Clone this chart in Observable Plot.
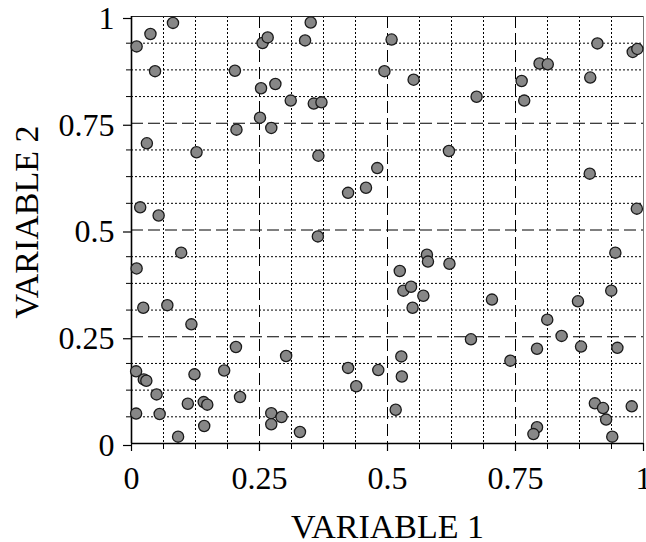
<!DOCTYPE html>
<html>
<head>
<meta charset="utf-8">
<script src="https://cdn.jsdelivr.net/npm/d3@7"></script>
<script src="https://cdn.jsdelivr.net/npm/@observablehq/plot@0.6"></script>
<style>
  html, body { margin: 0; padding: 0; background: #fff; }
  #chart svg, #chart svg text { font-family: "Liberation Serif", "Times New Roman", Times, serif !important; }
</style>
</head>
<body>
<div id="chart"></div>
<script>
const xValues = [0.010,0.037,0.081,0.256,0.266,0.350,0.339,0.508,0.046,0.202,0.494,0.253,0.281,0.311,0.356,0.371,0.251,0.273,0.205,0.030,0.127,0.365,0.480,0.458,0.423,0.017,0.053,0.364,
  0.551,0.674,0.762,0.767,0.797,0.813,0.910,0.896,0.979,0.988,0.620,0.895,0.987,
  0.097,0.010,0.023,0.070,0.117,0.009,0.024,0.029,0.049,0.009,0.055,0.091,0.123,0.110,0.141,0.148,0.142,0.181,0.204,0.212,0.302,0.273,0.293,0.273,0.329,
  0.577,0.579,0.621,0.524,0.531,0.546,0.570,0.549,0.704,0.872,0.945,0.937,0.812,0.840,0.663,0.792,0.878,0.949,0.740,0.527,0.528,0.516,
  0.423,0.439,0.482,0.905,0.921,0.927,0.977,0.939,0.792,0.785];
const yValues = [0.930,0.959,0.985,0.938,0.951,0.986,0.944,0.946,0.872,0.873,0.872,0.832,0.842,0.803,0.796,0.799,0.763,0.739,0.735,0.703,0.682,0.674,0.645,0.599,0.587,0.553,0.534,0.485,
  0.852,0.812,0.849,0.803,0.890,0.888,0.937,0.857,0.917,0.924,0.685,0.632,0.550,
  0.447,0.410,0.318,0.324,0.279,0.169,0.150,0.147,0.115,0.070,0.069,0.016,0.162,0.093,0.097,0.091,0.041,0.171,0.226,0.109,0.205,0.071,0.062,0.045,0.027,
  0.442,0.426,0.421,0.404,0.358,0.367,0.346,0.318,0.337,0.333,0.447,0.358,0.290,0.252,0.244,0.222,0.227,0.224,0.194,0.204,0.157,0.079,
  0.177,0.134,0.172,0.094,0.083,0.056,0.087,0.016,0.038,0.022];
const majorTicks = [0, 0.25, 0.5, 0.75, 1];
const minorTicks = [0.0625, 0.125, 0.1875, 0.3125, 0.375, 0.4375, 0.5625, 0.625, 0.6875, 0.8125, 0.875, 0.9375];
const majorGrid = [0.25, 0.5, 0.75];
const xLabel = "VARIABLE 1";
const yLabel = "VARIABLE 2";

const points = xValues.map((x, i) => ({x, y: yValues[i]}));

const chart = Plot.plot({
  width: 646,
  height: 542,
  marginLeft: 131,
  marginRight: 3,
  marginTop: 16,
  marginBottom: 99,
  style: {fontSize: "32px", background: "#fff", color: "#000"},
  x: {domain: [0, 1], label: null},
  y: {domain: [0, 1], label: null},
  marks: [
    Plot.gridX(minorTicks, {stroke: "#000", strokeOpacity: 1, strokeWidth: 1, strokeDasharray: "2,2"}),
    Plot.gridY(minorTicks, {stroke: "#000", strokeOpacity: 1, strokeWidth: 1, strokeDasharray: "2,2"}),
    Plot.gridX(majorGrid, {stroke: "#000", strokeOpacity: 1, strokeWidth: 1, strokeDasharray: "12,5"}),
    Plot.gridY(majorGrid, {stroke: "#000", strokeOpacity: 1, strokeWidth: 1, strokeDasharray: "12,5"}),
    Plot.ruleY([1], {stroke: "#222", strokeWidth: 1}),
    Plot.ruleX([1], {stroke: "#777", strokeWidth: 1}),
    Plot.ruleX([0], {stroke: "#000", strokeWidth: 1.6}),
    Plot.ruleY([0], {stroke: "#000", strokeWidth: 1.6}),
    Plot.axisX({ticks: majorTicks, tickSize: 8, tickPadding: 15, tickFormat: d => String(d), label: null, strokeWidth: 1.2}),
    Plot.axisX({ticks: minorTicks, tickSize: 6, tickFormat: () => "", label: null, strokeWidth: 1}),
    Plot.axisY({ticks: majorTicks, tickSize: 8, tickPadding: 9, tickFormat: d => String(d), label: null, strokeWidth: 1.2, dy: 2}),
    Plot.axisY({ticks: minorTicks, tickSize: 5, tickFormat: () => "", label: null, strokeWidth: 1}),
    Plot.dot(points, {x: "x", y: "y", r: 5.6, fill: "#878787", stroke: "#1a1a1a", strokeWidth: 1.3}),
    Plot.text([xLabel], {frameAnchor: "bottom", dy: 94, lineAnchor: "bottom", textAnchor: "middle", text: d => d, fontSize: 34, fill: "#000"}),
    Plot.text([yLabel], {frameAnchor: "left", dx: -104, dy: -8, rotate: -90, lineAnchor: "middle", textAnchor: "middle", text: d => d, fontSize: 34, fill: "#000"})
  ]
});
document.getElementById("chart").appendChild(chart);
</script>
</body>
</html>
